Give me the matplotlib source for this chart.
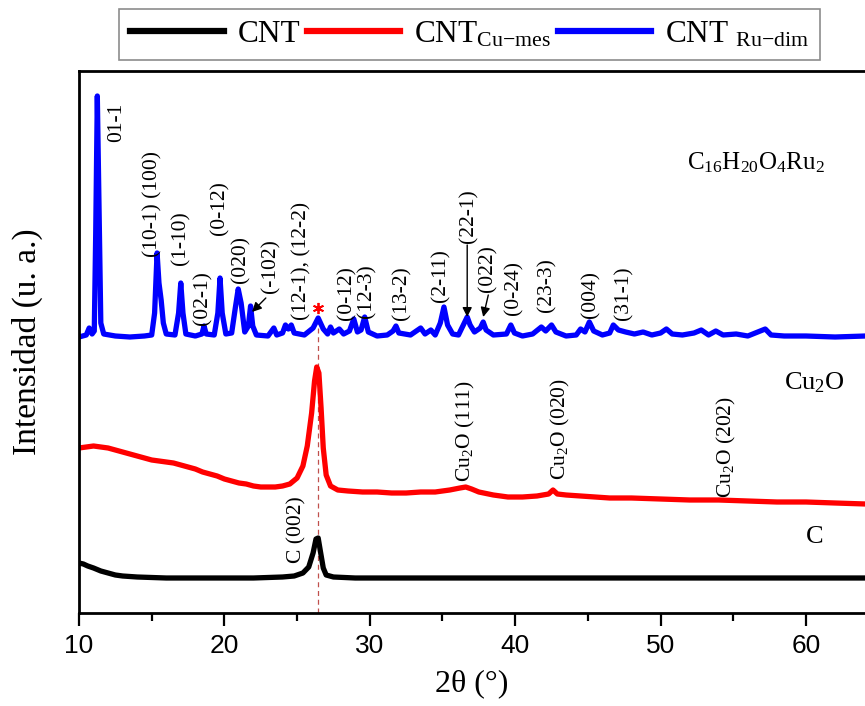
import numpy as np
import matplotlib
matplotlib.use('Agg')
import matplotlib.pyplot as plt
from matplotlib.ticker import MultipleLocator

plt.rcParams['font.family'] = ['Liberation Serif', 'DejaVu Serif']
plt.rcParams['mathtext.fontset'] = 'custom'
plt.rcParams['mathtext.rm'] = 'Liberation Serif'
plt.rcParams['mathtext.it'] = 'Liberation Serif:italic'
plt.rcParams['mathtext.bf'] = 'Liberation Serif:bold'

# ---- patrones DRX (2theta, intensidad relativa desplazada) ----
tt_ru = [10.0, 10.5, 10.7, 10.9, 11.05, 11.15, 11.26, 11.38, 11.5, 11.7, 12.5, 13.5, 14.5,
         15.0, 15.2, 15.37, 15.5, 15.65, 15.8, 16.0, 16.6, 16.85, 17.0, 17.15, 17.35, 18.0,
         18.45, 18.6, 18.75, 19.3, 19.55, 19.7, 19.85, 20.1, 20.5, 20.75, 20.95, 21.15, 21.4,
         21.65, 21.8, 21.95, 22.2, 23.0, 23.4, 23.6, 24.0, 24.2, 24.4, 24.6, 24.8, 25.5, 26.1,
         26.45, 26.8, 27.1, 27.3, 27.5, 27.9, 28.2, 28.6, 28.9, 29.15, 29.4, 29.65, 29.9, 30.5,
         31.2, 31.6, 31.8, 32.0, 32.8, 33.5, 33.8, 34.2, 34.5, 34.85, 35.1, 35.35, 35.7, 36.1,
         36.5, 36.7, 36.9, 37.2, 37.6, 37.8, 38.0, 38.5, 39.4, 39.7, 39.95, 40.5, 41.2, 41.8,
         42.1, 42.5, 42.8, 43.5, 44.2, 44.5, 44.8, 45.1, 45.4, 46.0, 46.5, 46.75, 47.1, 47.6,
         48.2, 48.8, 49.4, 50.0, 50.4, 50.8, 51.5, 52.3, 52.8, 53.3, 53.8, 54.3, 55.2, 56.0,
         57.2, 57.6, 58.5, 60.0, 62.0, 64.1]
i_ru = [276, 278, 285, 279, 282, 380, 517, 400, 290, 279, 277, 276, 277,
        278, 300, 360, 330, 313, 290, 279, 278, 300, 330, 300, 279, 277,
        279, 287, 279, 278, 300, 335, 300, 279, 280, 305, 324, 310, 281,
        287, 307, 287, 278, 277, 285, 278, 280, 288, 284, 288, 280, 278, 285,
        295, 284, 279, 286, 280, 284, 279, 282, 294, 281, 283, 296, 281, 277,
        278, 282, 287, 280, 278, 285, 279, 283, 278, 290, 306, 288, 279, 278,
        290, 296, 288, 281, 285, 291, 283, 278, 279, 288, 280, 277, 279, 286,
        282, 288, 281, 277, 278, 284, 281, 291, 282, 278, 280, 288, 283, 281,
        279, 281, 278, 280, 284, 279, 278, 280, 283, 278, 282, 278, 279, 277,
        284, 278, 277, 277, 276, 277]

tt_cu = [10.0, 10.5, 11.0, 11.5, 12.0, 12.5, 13.0, 13.5, 14.0, 14.5, 15.0, 15.5, 16.0, 16.5,
         17.0, 17.5, 18.0, 18.5, 19.0, 19.5, 20.0, 20.5, 21.0, 21.5, 22.0, 22.5, 23.0, 23.5,
         24.0, 24.5, 25.0, 25.4, 25.7, 26.0, 26.2, 26.35, 26.5, 26.65, 26.8, 27.0, 27.3, 27.8,
         28.5, 29.5, 30.5, 31.5, 32.5, 33.5, 34.5, 35.5, 36.2, 36.6, 37.0, 37.5, 38.5, 39.5,
         40.5, 41.5, 42.3, 42.6, 42.9, 43.5, 44.5, 45.5, 46.5, 48.0, 50.0, 52.0, 54.0, 56.0,
         58.0, 60.0, 62.0, 64.1]
i_cu = [165, 166, 167, 166, 165, 163, 161, 159, 157, 155, 153, 152, 151, 150,
        148, 146, 144, 141, 139, 137, 134, 132, 130, 129, 127, 126, 126, 126,
        127, 129, 135, 147, 167, 200, 232, 246, 240, 205, 165, 138, 127, 123,
        122, 121, 121, 120, 120, 121, 121, 123, 125, 126, 124, 121, 118, 116,
        116, 117, 119, 123, 119, 118, 117, 116, 115, 115, 114, 113, 113, 112,
        111, 111, 110, 109]

tt_c = [10.0, 10.3, 10.6, 11.0, 11.5, 12.0, 12.5, 13.0, 14.0, 16.0, 18.0, 20.0, 22.0, 24.0,
        24.8, 25.4, 25.8, 26.1, 26.3, 26.45, 26.6, 26.8, 27.0, 27.5, 29.0, 32.0, 36.0, 40.0,
        45.0, 50.0, 55.0, 60.0, 64.1]
i_c = [50, 49, 47, 45, 42, 40, 38, 37, 36, 35, 35, 35, 35, 36,
       37, 40, 46, 60, 74, 75, 62, 45, 38, 36, 35, 35, 35, 35,
       35, 35, 35, 35, 35]

series_names = ['CNT', r'CNT$_{\mathrm{Cu{-}mes}}$', r'CNT $_{\mathrm{Ru{-}dim}}$']
series_colors = ['black', 'red', 'blue']

# indexacion de picos del dimero de Ru (texto, 2theta, altura de la base del texto)
ru_labels = ['01-1', '(10-1) (100)', '(1-10)', '(02-1)', '(0-12)', '(020)', '(-102)',
             '(12-1), (12-2)', '(0-12)', '(12-3)', '(13-2)', '(2-11)', '(22-1)', '(022)',
             '(0-24)', '(23-3)', '(004)', '(31-1)']
ru_label_x = [12.6, 15.1, 17.0, 18.5, 19.7, 21.1, 23.2, 25.3, 28.4, 29.8, 32.2, 34.9,
              36.8, 38.1, 39.9, 42.2, 45.2, 47.5]
ru_label_y = [471, 356, 348, 288, 378, 330, 320, 293, 293, 295, 293, 311,
              370, 321, 298, 301, 295, 293]

cu_labels = ['Cu$_2$O (111)', 'Cu$_2$O (020)', 'Cu$_2$O (202)', 'C (002)']
cu_label_x = [36.6, 43.1, 54.5, 25.0]
cu_label_y = [131, 133, 115, 50]

# flechas (inicio -> pico)
arrows = [((22.85, 315), (21.9, 301)),
          ((36.7, 368), (36.7, 296)),
          ((38.15, 318), (37.8, 296))]

c002 = 26.45
x_ticks = [10, 20, 30, 40, 50, 60]
x_ticklabels = ['10', '20', '30', '40', '50', '60']

fig = plt.figure(figsize=(8.65, 7.06), dpi=100)
ax = fig.add_axes([79/865, 93/706, 1 - 79/865, (613 - 71)/706])

lines = []
for tt, ii, col in zip([tt_c, tt_cu, tt_ru], [i_c, i_cu, i_ru], series_colors):
    l, = ax.plot(tt, ii, color=col, lw=3.8, solid_joinstyle='round')
    lines.append(l)

# linea de referencia del C(002)
ax.vlines(c002, 0, 290, colors='#c0504d', linestyles=(0, (4, 3)), lw=0.9, zorder=1)
ax.plot(c002, 305, marker=(6, 2, 0), color='red', ms=8, mew=1.3, ls='none')

for s, x, y in zip(ru_labels, ru_label_x, ru_label_y):
    ax.text(x, y, s, rotation=90, ha='center', va='bottom', fontsize=15.5)
for s, x, y in zip(cu_labels, cu_label_x, cu_label_y):
    ax.text(x, y, s, rotation=90, ha='center', va='bottom', fontsize=15.5)

for (x0, y0), (x1, y1) in arrows:
    ax.annotate('', xy=(x1, y1), xytext=(x0, y0),
                arrowprops=dict(arrowstyle='-|>', color='black', lw=1.0,
                                mutation_scale=14, shrinkA=0, shrinkB=0))

ax.text(56.6, 450, r'C$_{16}$H$_{20}$O$_{4}$Ru$_{2}$', ha='center', va='center', fontsize=18)
ax.text(60.55, 230, r'Cu$_2$O', ha='center', va='center', fontsize=19)
ax.text(60.6, 76, 'C', ha='center', va='center', fontsize=19)

ax.set_xlim(10, 64.06)
ax.set_ylim(0, 542)
ax.set_yticks([])
ax.set_xticks(x_ticks, x_ticklabels, fontfamily=['Liberation Sans Narrow', 'Liberation Sans'],
              fontsize=19)
ax.xaxis.set_minor_locator(MultipleLocator(5))
ax.tick_params(axis='x', which='major', direction='out', length=9, width=1.6, pad=6)
ax.tick_params(axis='x', which='minor', direction='out', length=6, width=1.6)
for side in ['left', 'bottom', 'top']:
    ax.spines[side].set_linewidth(2.0)
ax.spines['right'].set_visible(False)

ax.set_xlabel('2θ (°)', fontsize=23, labelpad=8)
ax.set_ylabel('Intensidad (u. a.)', fontsize=24, labelpad=26)

leg = fig.legend(lines, series_names, loc='center', bbox_to_anchor=(0.543, 0.951), ncol=3,
                 fontsize=22.5, handlelength=3.0, handletextpad=0.45, columnspacing=0.2,
                 frameon=True, fancybox=False, edgecolor='#707070', borderpad=0.35)
leg.get_frame().set_linewidth(1.2)
for h in leg.get_lines():
    h.set_linewidth(4.5)

fig.savefig('out.png', dpi=100)
